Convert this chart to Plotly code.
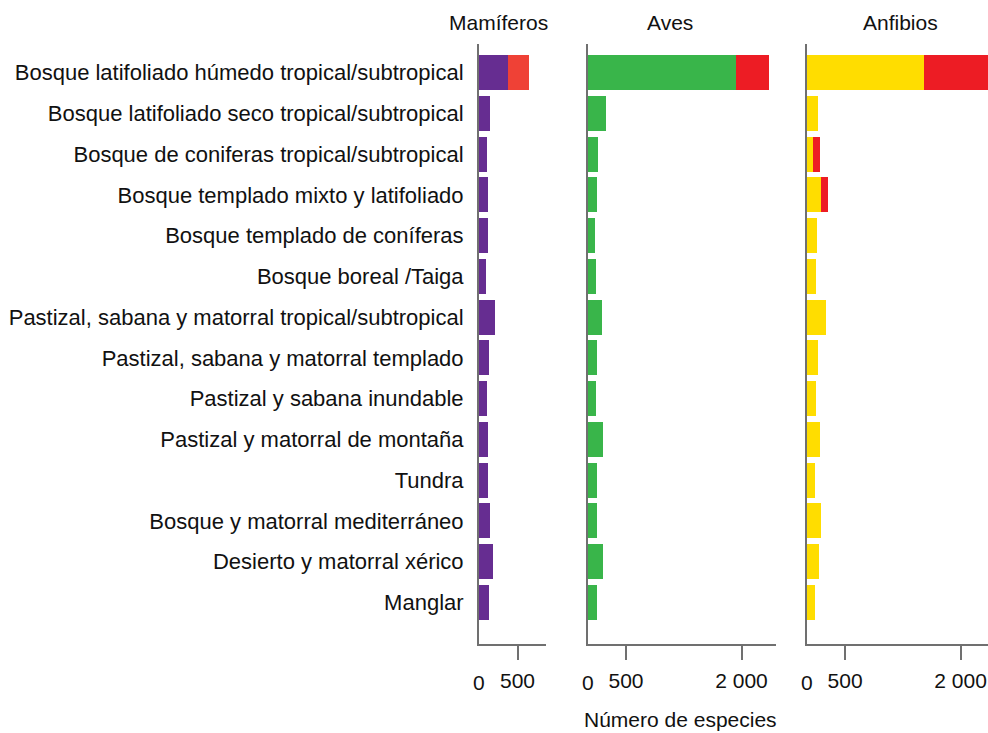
import plotly.graph_objects as go

W, H = 988, 733

biomas = [
    "Bosque latifoliado húmedo tropical/subtropical",
    "Bosque latifoliado seco tropical/subtropical",
    "Bosque de coniferas tropical/subtropical",
    "Bosque templado mixto y latifoliado",
    "Bosque templado de coníferas",
    "Bosque boreal /Taiga",
    "Pastizal, sabana y matorral tropical/subtropical",
    "Pastizal, sabana y matorral templado",
    "Pastizal y sabana inundable",
    "Pastizal y matorral de montaña",
    "Tundra",
    "Bosque y matorral mediterráneo",
    "Desierto y matorral xérico",
    "Manglar",
]

# Número de especies por bioma (base) y porción adicional (rojo)
mamiferos = [377, 143, 104, 117, 117, 91, 208, 130, 104, 117, 117, 143, 182, 130]
mamiferos_rojo = [273, 0, 0, 0, 0, 0, 0, 0, 0, 0, 0, 0, 0, 0]
aves = [1931, 234, 130, 117, 91, 104, 182, 117, 104, 195, 117, 117, 195, 117]
aves_rojo = [432, 0, 0, 0, 0, 0, 0, 0, 0, 0, 0, 0, 0, 0]
anfibios = [1520, 143, 78, 182, 130, 117, 247, 143, 117, 169, 104, 182, 156, 104]
anfibios_rojo = [860, 0, 91, 91, 0, 0, 0, 0, 0, 0, 0, 0, 0, 0]

paneles = ["Mamíferos", "Aves", "Anfibios"]
tick_vals = [500, 2000]
tick_text = ["500", "2 000"]

FONT = "Liberation Sans Narrow, Arial Narrow, Liberation Sans, Arial, sans-serif"
TXT = "#111111"
AXIS = "#707070"
PX_PER_UNIT = 0.077

# panel extents in pixels (left, right)
panel_px = [(479, 546), (587.5, 776), (806.6, 988)]
title_px = [499, 670, 900]
top_px, bottom_px = 44, 644

colores = [
    ("#662D91", "#EF4136"),
    ("#39B54A", "#ED1C24"),
    ("#FFDD00", "#ED1C24"),
]
series = [(mamiferos, mamiferos_rojo), (aves, aves_rojo), (anfibios, anfibios_rojo)]

pos = list(range(len(biomas)))
fig = go.Figure()

for i, ((base, rojo), (c1, c2)) in enumerate(zip(series, colores)):
    xa = "x" if i == 0 else f"x{i+1}"
    ya = "y" if i == 0 else f"y{i+1}"
    for vals, col in ((base, c1), (rojo, c2)):
        fig.add_trace(go.Bar(
            x=vals, y=pos, orientation="h", marker=dict(color=col, line=dict(width=0)),
            width=0.86, xaxis=xa, yaxis=ya, showlegend=False, hoverinfo="x+y",
        ))

layout = dict(
    width=W, height=H, margin=dict(l=0, r=0, t=0, b=0),
    paper_bgcolor="white", plot_bgcolor="white", barmode="stack",
    font=dict(family=FONT, size=21, color=TXT),
    showlegend=False,
)

ydom = [1 - bottom_px / H, 1 - top_px / H]
annotations = []
for i, (l, r) in enumerate(panel_px):
    k = "" if i == 0 else str(i + 1)
    xr = (r - l) / PX_PER_UNIT
    layout[f"xaxis{k}"] = dict(
        domain=[l / W, min(r / W, 1.0)], range=[0, xr], anchor=f"y{k}" if k else "y",
        showline=True, linecolor=AXIS, linewidth=2, showgrid=False, zeroline=False,
        tickvals=tick_vals, ticktext=tick_text, ticks="outside", ticklen=14,
        tickcolor=AXIS, tickwidth=2, tickfont=dict(size=21, family=FONT, color=TXT),
        ticklabelstandoff=3,
    )
    layout[f"yaxis{k}"] = dict(
        domain=ydom, range=[14.02, -0.70], anchor=f"x{k}" if k else "x",
        showline=True, linecolor=AXIS, linewidth=2, showgrid=False, zeroline=False,
        tickvals=pos, ticktext=biomas if i == 0 else [""] * len(biomas),
        showticklabels=(i == 0), ticks="", ticklabelstandoff=9,
        tickfont=dict(size=22, family=FONT, color=TXT),
    )
    annotations.append(dict(
        text=paneles[i], x=title_px[i] / W, y=1 - 22 / H, xref="paper", yref="paper",
        xanchor="center", yanchor="middle", showarrow=False,
        font=dict(size=21, family=FONT, color=TXT),
    ))
    annotations.append(dict(
        text="0", x=0, y=1 - 682 / H, xref=f"x{k}" if k else "x", yref="paper",
        xanchor="center", yanchor="middle", showarrow=False,
        font=dict(size=21, family=FONT, color=TXT),
    ))

annotations.append(dict(
    text="Número de especies", x=680 / W, y=1 - 719 / H, xref="paper", yref="paper",
    xanchor="center", yanchor="middle", showarrow=False,
    font=dict(size=21, family=FONT, color=TXT),
))
layout["annotations"] = annotations
fig.update_layout(**layout)
fig.write_html("out.html")
